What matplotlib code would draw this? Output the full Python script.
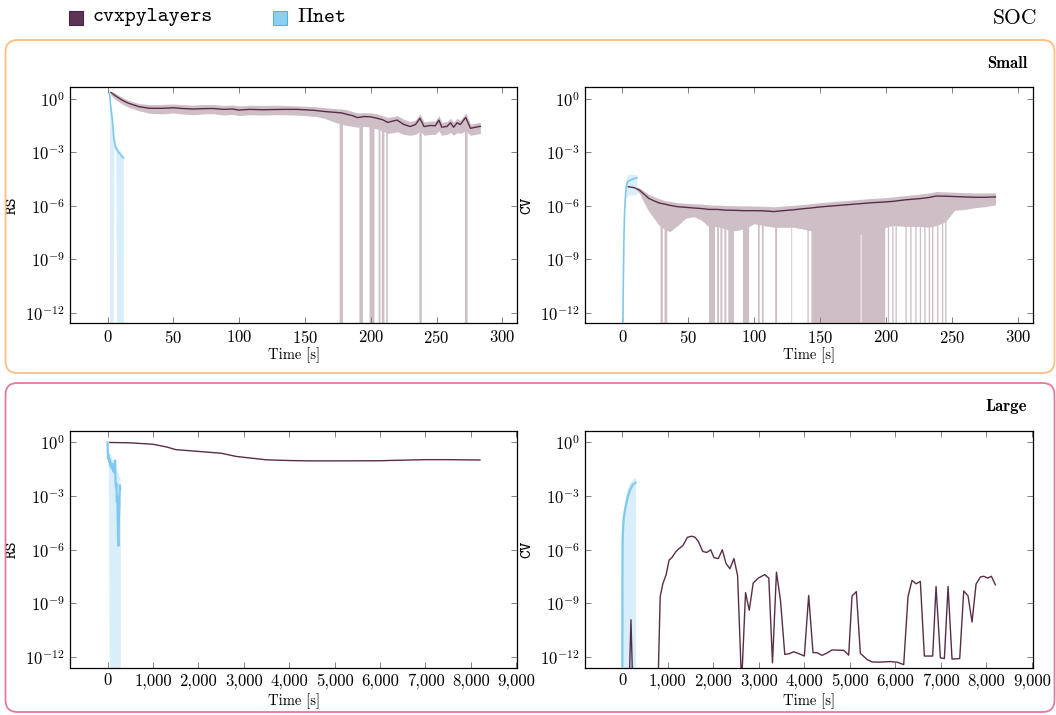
import numpy as np
import matplotlib
matplotlib.use("Agg")
import matplotlib.pyplot as plt
from matplotlib.patches import FancyBboxPatch, Rectangle
from matplotlib.ticker import FixedLocator, FuncFormatter, NullLocator, LogFormatterSciNotation

plt.rcParams.update({
    'font.family': 'cmr10',
    'mathtext.fontset': 'cm',
    'axes.formatter.use_mathtext': True,
    'axes.unicode_minus': False,
})

# ---------------- data (log10 values) ----------------
# Small / RS / cvxpylayers
rs_s_cvx_t = [2.5, 6, 11, 16, 24, 32, 42, 50, 57, 65, 72, 80, 88, 95, 100, 108, 118, 126, 134, 143,
              150, 158, 165, 172, 178, 182, 186, 190, 195, 200, 205, 209, 213, 217, 220, 225, 230, 234,
              237.4, 240.5, 245.5, 249, 251.8, 254, 258, 260.6, 263, 265.7, 268, 272.2, 275.8, 279.5, 283.3]
rs_s_cvx_mean = [0.35, 0.16, -0.08, -0.26, -0.45, -0.54, -0.54, -0.51, -0.55, -0.58, -0.56, -0.55, -0.6,
                 -0.58, -0.64, -0.6, -0.62, -0.61, -0.6, -0.6, -0.62, -0.66, -0.72, -0.76, -0.8, -0.88,
                 -0.95, -1.06, -1.0, -1.02, -1.1, -1.18, -1.33, -1.25, -1.2, -1.44, -1.56, -1.45, -1.1,
                 -1.56, -1.5, -1.52, -1.2, -1.6, -1.55, -1.35, -1.6, -1.35, -1.45, -1.05, -1.66, -1.6, -1.55]
rs_s_cvx_hi = [0.42, 0.3, 0.08, -0.1, -0.28, -0.33, -0.32, -0.3, -0.33, -0.36, -0.33, -0.33, -0.38, -0.36,
               -0.4, -0.37, -0.38, -0.37, -0.38, -0.4, -0.42, -0.45, -0.5, -0.55, -0.58, -0.62, -0.72, -0.8,
               -0.78, -0.8, -0.85, -0.95, -1.05, -1.0, -0.95, -1.15, -1.28, -1.2, -0.85, -1.3, -1.25, -1.25,
               -0.95, -1.32, -1.28, -1.1, -1.3, -1.1, -1.2, -0.8, -1.42, -1.38, -1.32]
rs_s_cvx_lo = [0.2, -0.05, -0.3, -0.48, -0.68, -0.82, -0.85, -0.8, -0.86, -0.9, -0.86, -0.84, -0.92, -0.88,
               -0.95, -0.9, -0.92, -0.9, -0.9, -0.92, -0.95, -1.0, -1.1, -1.3, -1.45, -1.5, -1.55, -1.6,
               -1.55, -1.6, -1.7, -1.8, -1.95, -1.9, -1.85, -2.0, -2.05, -2.0, -1.8, -2.05, -2.0, -2.0,
               -1.8, -2.05, -2.0, -1.9, -2.05, -1.9, -1.95, -1.8, -2.05, -2.0, -1.95]
rs_s_cvx_drops = [(176, 178.5), (191, 193.7), (198.7, 202.5), (205.6, 207), (208, 210), (211.4, 212.6),
                  (236.6, 238.4), (271.2, 273.2)]

# Small / RS / IInet
rs_s_pi_t = [1.5, 2.5, 3.6, 4.9, 6.2, 7.5, 8.7, 10, 11, 12]
rs_s_pi_mean = [0.28, -0.5, -1.13, -2.27, -2.74, -2.9, -3.03, -3.15, -3.25, -3.31]
rs_s_pi_hi = [0.3, -0.4, -1.0, -2.1, -2.55, -2.7, -2.85, -2.95, -3.05, -3.15]
rs_s_pi_lo = [-20, -20, -20, -2.6, -3.0, -20, -20, -20, -20, -20]

# Small / CV / cvxpylayers
cv_s_cvx_t = [4.5, 9, 13, 17, 20, 24, 28, 32, 36, 42, 48, 54, 60, 66, 72, 78, 85, 92, 100, 107, 115,
              122, 130, 137, 143, 150, 160, 170, 180, 190, 200, 205, 215, 225, 232, 238, 245, 252, 260,
              268, 275, 283]
cv_s_cvx_mean = [-4.93, -4.98, -5.12, -5.38, -5.58, -5.72, -5.84, -5.9, -5.97, -6.05, -6.08, -6.12, -6.15,
                 -6.2, -6.2, -6.24, -6.25, -6.27, -6.27, -6.28, -6.32, -6.27, -6.22, -6.16, -6.12, -6.06,
                 -6.0, -5.94, -5.88, -5.82, -5.78, -5.75, -5.66, -5.6, -5.54, -5.45, -5.46, -5.48, -5.5,
                 -5.52, -5.52, -5.5]
cv_s_cvx_hi = [-4.85, -4.9, -5.0, -5.2, -5.35, -5.48, -5.6, -5.7, -5.75, -5.82, -5.86, -5.88, -5.9, -5.95,
               -5.96, -5.98, -5.99, -6.0, -6.01, -6.02, -6.05, -6.01, -5.97, -5.92, -5.88, -5.82, -5.76,
               -5.70, -5.64, -5.58, -5.54, -5.5, -5.42, -5.35, -5.28, -5.2, -5.22, -5.24, -5.26, -5.28,
               -5.28, -5.27]
cv_s_cvx_lo = [-5.0, -5.05, -5.3, -5.9, -6.3, -6.7, -7.1, -7.3, -7.45, -7.1, -6.7, -6.6, -6.8, -7.2, -7.15,
               -7.3, -7.4, -7.3, -7.0, -7.1, -7.2, -7.2, -7.2, -7.3, -7.4, -7.5, -7.6, -7.6, -7.6, -7.5,
               -7.2, -7.1, -7.15, -7.15, -7.2, -7.1, -6.9, -6.25, -6.2, -6.1, -6.05, -5.95]
cv_s_cvx_drops = [(28.6, 30.4), (31.6, 33.7), (66, 70.5), (71.5, 73), (74, 75.5), (77, 78.5), (80, 84.3),
                  (91.1, 95.8), (102.5, 103.8), (105.5, 106.8), (115.5, 117), (127.8, 128.4), (140, 141),
                  (143, 180.4), (181, 199), (201, 202), (204.3, 205.3), (206.8, 207.8), (214.3, 215.3),
                  (218, 219), (221.8, 222.8), (225.2, 226.2), (228.6, 229.6), (232, 233), (234.5, 235.5),
                  (238.3, 239.3), (242, 243), (244.5, 245.5)]

# Small / CV / IInet
cv_s_pi_t = [0.3, 0.8, 1.3, 1.8, 2.5, 3.2, 4, 5, 6.5, 8, 10, 11]
cv_s_pi_mean = [-14, -10, -7.5, -6.2, -5.3, -4.85, -4.65, -4.6, -4.55, -4.5, -4.45, -4.43]
cv_s_pi_band_t = [2.5, 4, 6, 8, 11]
cv_s_pi_hi = [-4.5, -4.25, -4.22, -4.25, -4.25]
cv_s_pi_lo = [-5.6, -5.4, -5.4, -5.38, -5.35]

# Large / RS / cvxpylayers
rs_l_cvx_t = [50, 500, 1000, 1300, 1500, 2000, 2500, 2830, 3000, 3500, 4000, 4500, 5000, 6000, 7000, 7500, 8200]
rs_l_cvx_mean = [0.0, -0.02, -0.1, -0.25, -0.4, -0.5, -0.6, -0.78, -0.83, -0.97, -1.01, -1.03, -1.03,
                 -1.02, -0.96, -0.96, -0.98]

# Large / RS / IInet
rs_l_pi_t = [0, 10, 20, 35, 50, 65, 80, 95, 110, 125, 140, 155, 165, 175, 185, 195, 205, 215, 225, 232,
             240, 250, 260, 270, 278]
rs_l_pi_mean = [0.0, -0.9, -0.7, -1.1, -0.95, -1.3, -1.15, -1.45, -1.2, -1.6, -1.35, -1.7, -1.0, -2.1,
                -2.5, -2.3, -3.3, -3.0, -4.3, -5.5, -5.77, -4.2, -3.6, -2.4, -2.6]
rs_l_pi_band_t = [0, 15, 52, 274, 280]
rs_l_pi_hi = [0.0, -0.5, -0.6, -2.0, -2.2]
rs_l_pi_lo = [0.0, -0.9, -20, -20, -20]

# Large / CV / cvxpylayers
cv_l_cvx_t = [146, 190, 233, 781, 832, 890, 963, 1029, 1088, 1175, 1234, 1329, 1431, 1526, 1599, 1672,
              1767, 1854, 1942, 2015, 2110, 2197, 2278, 2365, 2453, 2533, 2621, 2708, 2789, 2876, 2986,
              3132, 3219, 3300, 3387, 3475, 3570, 3665, 3767, 3884, 4000, 4095, 4190, 4278, 4388, 4484,
              4608, 4864, 4974, 5048, 5143, 5231, 5377, 5487, 5634, 5890, 6037, 6183, 6278, 6366, 6454,
              6549, 6637, 6820, 6894, 6989, 7077, 7158, 7245, 7414, 7502, 7597, 7685, 7773, 7868, 7941,
              8029, 8110, 8198]
cv_l_cvx_mean = [-14, -9.91, -14, -14, -8.62, -7.9, -7.39, -6.57, -6.44, -6.11, -5.96, -5.77, -5.30,
                 -5.24, -5.30, -5.54, -6.09, -6.15, -6.0, -6.44, -6.49, -6.0, -6.76, -7.06, -6.49, -7.44,
                 -13.5, -8.39, -9.38, -7.86, -7.58, -7.39, -7.58, -12.32, -7.25, -8.81, -11.85, -11.81,
                 -11.7, -11.81, -11.94, -8.55, -11.75, -11.75, -11.9, -11.79, -11.6, -11.62, -11.89, -8.58,
                 -8.34, -11.79, -12.13, -12.27, -12.28, -12.25, -12.28, -12.42, -8.62, -7.71, -7.9, -7.77,
                 -11.94, -11.94, -8.05, -12.04, -12.08, -8.05, -12.11, -12.08, -8.30, -8.58, -10.04, -7.92,
                 -7.52, -7.48, -7.58, -7.48, -7.96]

# Large / CV / IInet
cv_l_pi_t = [0, 3, 7, 15, 30, 50, 82, 120, 157, 200, 231, 260, 291]
cv_l_pi_mean = [-14, -7, -5.38, -4.9, -4.24, -3.9, -3.48, -3.05, -2.73, -2.5, -2.35, -2.3, -2.25]
cv_l_pi_hi = [-5, -4.6, -4.5, -4.2, -3.7, -3.3, -2.9, -2.5, -2.25, -2.15, -2.05, -2.0, -2.0]
cv_l_pi_lo = [-20, -20, -20, -20, -20, -20, -20, -20, -20, -20, -20, -20, -20]

small_xticks = [0, 50, 100, 150, 200, 250, 300]
large_xticks = [0, 1000, 2000, 3000, 4000, 5000, 6000, 7000, 8000, 9000]
yticks = [1e0, 1e-3, 1e-6, 1e-9, 1e-12]

# ---------------- styles ----------------
CVX = '#5A2D46'
CVX_BAND = '#CEBFC7'
PI = '#7FC8EE'
PI_BAND = '#D8EEFA'
ORANGE = '#FDBE82'
PINK = '#E47A9C'

W, H = 1056, 715
fig = plt.figure(figsize=(W / 100, H / 100), dpi=100)


def p10(v):
    return np.power(10.0, np.asarray(v, dtype=float))


def make_ax(left_px, top_px, right_px, bottom_px):
    return fig.add_axes([left_px / W, 1 - bottom_px / H, (right_px - left_px) / W, (bottom_px - top_px) / H])


def style(ax, xticks, xlim, ylabel, comma=False, xlab_y=-0.095):
    ax.set_yscale('log')
    ax.set_ylim(10 ** -12.58, 10 ** 0.63)
    ax.set_xlim(*xlim)
    ax.yaxis.set_major_locator(FixedLocator(yticks))
    ax.yaxis.set_minor_locator(NullLocator())
    ax.yaxis.set_major_formatter(LogFormatterSciNotation())
    ax.xaxis.set_major_locator(FixedLocator(xticks))
    if comma:
        ax.xaxis.set_major_formatter(FuncFormatter(lambda v, p: f"{v:,.0f}"))
    ax.tick_params(which='both', direction='in', top=True, right=True, length=4.5, width=0.7,
                   color='#808080', labelsize=12, pad=4)
    for s in ax.spines.values():
        s.set_linewidth(0.9)
        s.set_color('black')
    ax.set_xlabel('Time [s]', fontsize=10.5)
    ax.xaxis.set_label_coords(0.5, xlab_y)
    ax.set_ylabel(ylabel, family='cmtt10', fontsize=12)
    ax.yaxis.set_label_coords(-0.113, 0.5)


def band(ax, t, lo, hi, color, z=1):
    ax.fill_between(t, p10(lo), p10(hi), color=color, lw=0, zorder=z)


def drops(ax, intervals, t, mean, color, z=1):
    for a, b in intervals:
        top = p10(np.interp([a, b], t, mean))
        ax.fill_between([a, b], [1e-20, 1e-20], top, color=color, lw=0, zorder=z)


LX0, LX1, RX0, RX1 = 70.3, 517.2, 585.0, 1032.8
TY0, TY1, BY0, BY1 = 87.4, 323.4, 431.2, 667.5

# Top-left: Small RS
ax = make_ax(LX0, TY0, LX1, TY1)
band(ax, rs_s_cvx_t, rs_s_cvx_lo, rs_s_cvx_hi, CVX_BAND)
drops(ax, rs_s_cvx_drops, rs_s_cvx_t, rs_s_cvx_mean, CVX_BAND)
ax.plot(rs_s_cvx_t, p10(rs_s_cvx_mean), color=CVX, lw=1.0, zorder=3)
band(ax, rs_s_pi_t, rs_s_pi_lo, rs_s_pi_hi, PI_BAND, z=2)
ax.plot(rs_s_pi_t, p10(rs_s_pi_mean), color=PI, lw=1.2, zorder=4)
style(ax, small_xticks, (-28.3, 311.3), 'RS', xlab_y=-0.1)

# Top-right: Small CV
ax = make_ax(RX0, TY0, RX1, TY1)
band(ax, cv_s_cvx_t, cv_s_cvx_lo, cv_s_cvx_hi, CVX_BAND)
drops(ax, cv_s_cvx_drops, cv_s_cvx_t, cv_s_cvx_mean, CVX_BAND)
ax.plot(cv_s_cvx_t, p10(cv_s_cvx_mean), color=CVX, lw=1.0, zorder=3)
band(ax, cv_s_pi_band_t, cv_s_pi_lo, cv_s_pi_hi, PI_BAND, z=2)
ax.plot(cv_s_pi_t, p10(cv_s_pi_mean), color=PI, lw=1.2, zorder=4)
style(ax, small_xticks, (-28.3, 311.3), 'CV', xlab_y=-0.1)

# Bottom-left: Large RS
ax = make_ax(LX0, BY0, LX1, BY1)
band(ax, rs_l_pi_band_t, rs_l_pi_lo, rs_l_pi_hi, PI_BAND, z=1)
ax.plot(rs_l_pi_t, p10(rs_l_pi_mean), color=PI, lw=1.6, zorder=3)
ax.plot(rs_l_cvx_t, p10(rs_l_cvx_mean), color=CVX, lw=1.0, zorder=4)
style(ax, large_xticks, (-820, 9020), 'RS', comma=True, xlab_y=-0.11)

# Bottom-right: Large CV
ax = make_ax(RX0, BY0, RX1, BY1)
band(ax, cv_l_pi_t, cv_l_pi_lo, cv_l_pi_hi, PI_BAND, z=1)
ax.plot(cv_l_pi_t, p10(cv_l_pi_mean), color=PI, lw=1.6, zorder=3)
ax.plot(cv_l_cvx_t, p10(cv_l_cvx_mean), color=CVX, lw=1.0, zorder=4)
style(ax, large_xticks, (-820, 9020), 'CV', comma=True, xlab_y=-0.11)

# Group boxes
fig.add_artist(FancyBboxPatch((0.055, (H - 373) / 100), 10.49, 3.33,
                              boxstyle='round,pad=0,rounding_size=0.12', transform=fig.dpi_scale_trans,
                              fill=False, ec=ORANGE, lw=1.3))
fig.add_artist(FancyBboxPatch((0.055, 0.03), 10.49, (H - 383) / 100 - 0.03,
                              boxstyle='round,pad=0,rounding_size=0.12', transform=fig.dpi_scale_trans,
                              fill=False, ec=PINK, lw=1.3))

fig.text(1027 / W, 1 - 64 / H, 'Small', family='cmb10', fontsize=12, ha='right', va='center')
fig.text(1027 / W, 1 - 406 / H, 'Large', family='cmb10', fontsize=12, ha='right', va='center')
fig.text(1037 / W, 1 - 18 / H, 'SOC', fontsize=15.5, ha='right', va='center')

# Legend
fig.add_artist(Rectangle((69 / W, 1 - 24.5 / H), 14 / W, 14 / H, transform=fig.transFigure,
                         fc='#5E3356', ec='#4A2244', lw=0.8))
fig.text(93 / W, 1 - 17.5 / H, 'cvxpylayers', family='cmtt10', fontsize=15, va='center')
fig.add_artist(Rectangle((273 / W, 1 - 24.5 / H), 14 / W, 14 / H, transform=fig.transFigure,
                         fc='#8BCFF1', ec='#4FB3EA', lw=0.8))
fig.text(297 / W, 1 - 17.5 / H, r'$\Pi\mathtt{net}$', fontsize=15, va='center')

fig.savefig('out.png', dpi=100)
